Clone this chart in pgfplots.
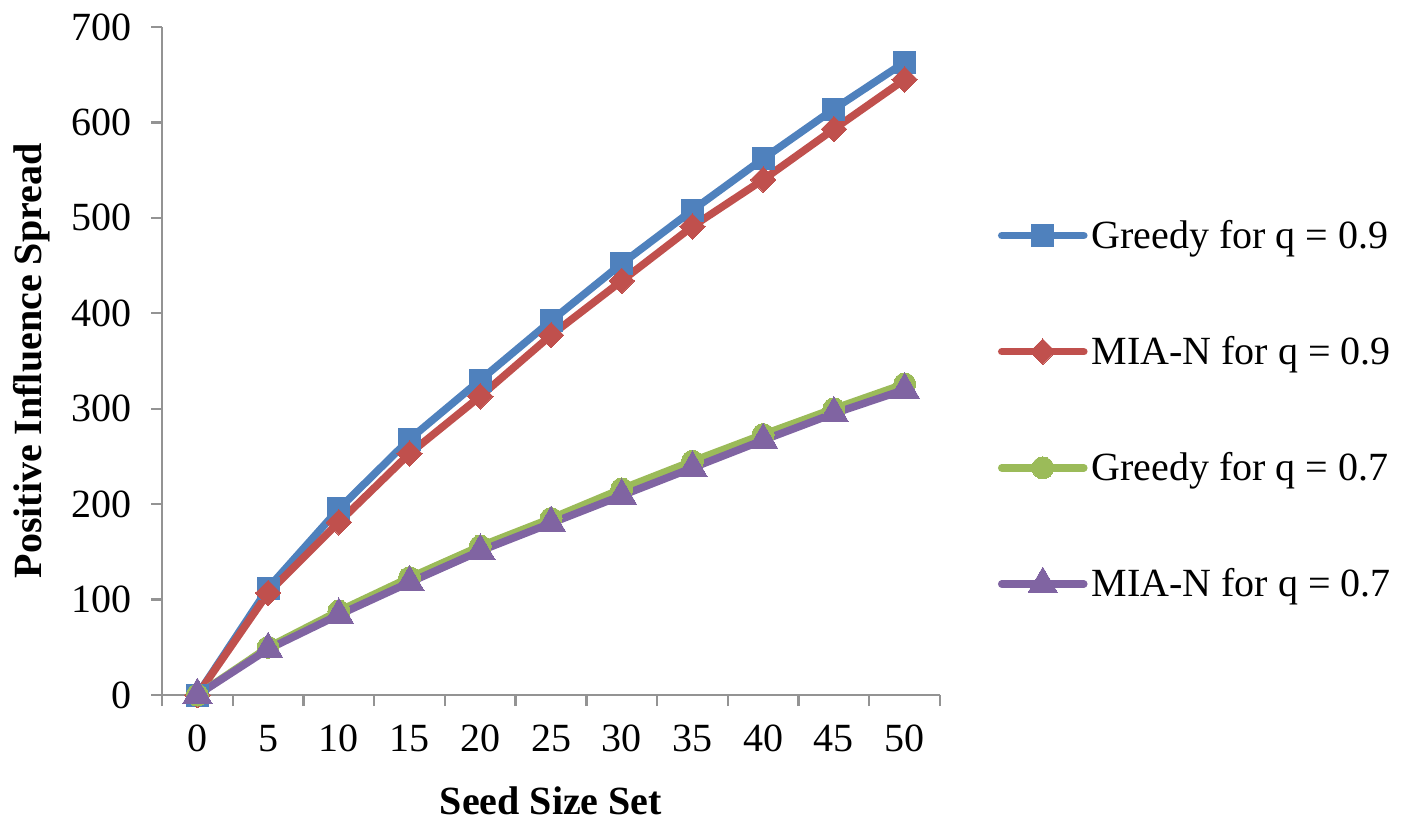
\documentclass[border=0pt]{standalone}
\usepackage{fontspec}
\setmainfont{Liberation Serif}
\usepackage{pgfplots}
\pgfplotsset{compat=1.18}
\definecolor{xblue}{HTML}{4F81BD}
\definecolor{xred}{HTML}{C0504D}
\definecolor{xgreen}{HTML}{9BBB59}
\definecolor{xpurple}{HTML}{8064A2}
\newcommand\ff{\fontsize{20}{24}\selectfont}
\begin{document}
\begin{tikzpicture}
\useasboundingbox (0,0) rectangle (703.5pt,410pt);
\begin{axis}[
  at={(81pt,62.5pt)}, anchor=south west,
  scale only axis, width=389pt, height=334pt,
  xmin=-0.5, xmax=10.5, ymin=0, ymax=700,
  axis x line=bottom, axis y line=left,
  axis line style={-, draw=gray!85, line width=1.2pt},
  xtick={-0.5,0.5,...,10.5},
  x tick label as interval,
  xticklabels={0,5,10,15,20,25,30,35,40,45,50},
  ytick={0,100,...,700},
  tick style={draw=gray!85, line width=1.2pt},
  tick align=outside, major tick length=5.5pt,
  /pgf/number format/assume math mode=true,
  tick label style={font=\ff},
  yticklabel style={xshift=-6pt},
  xticklabel style={yshift=-6pt},
  xlabel={\textbf{Seed Size Set}},
  ylabel={\textbf{Positive Influence Spread}},
  xlabel style={font=\ff, at={(axis description cs:0.5,0)}, anchor=north, inner sep=0pt, yshift=-45.5pt},
  ylabel style={font=\ff, at={(axis description cs:-0.167,0.5)}, anchor=center, inner sep=0pt},
  legend style={draw=none, at={(1.074,0.427)}, anchor=west, font=\ff, row sep=38.5pt, inner sep=0pt},
  legend cell align=left,
  legend image code/.code={\draw[mark repeat=2,mark phase=2,#1] plot coordinates {(0pt,0pt) (20.5pt,0pt) (41pt,0pt)};},
  every axis plot/.append style={line width=3.8pt, line join=round, line cap=round},
  clip=false,
]
\addplot[color=xblue, mark=square*, mark size=5.5pt, mark options={line width=0pt}] coordinates {
(0,0) (1,112) (2,195) (3,268) (4,330) (5,392) (6,452) (7,508) (8,562) (9,614) (10,663)};
\addlegendentry{Greedy for q = 0.9}
\addplot[color=xred, mark=square*, mark size=4.5pt, mark options={line width=0pt, rotate=45}] coordinates {
(0,0) (1,107) (2,181) (3,253) (4,313) (5,377) (6,434) (7,491) (8,540) (9,593) (10,645)};
\addlegendentry{MIA-N for q = 0.9}
\addplot[color=xgreen, mark=*, mark size=5.5pt, mark options={line width=0pt}] coordinates {
(0,0) (1,50) (2,88) (3,123) (4,156) (5,185) (6,216) (7,245) (8,273) (9,300) (10,326)};
\addlegendentry{Greedy for q = 0.7}
\addplot[color=xpurple, mark=triangle*, mark size=8.5pt, mark options={line width=0pt}] coordinates {
(0,0) (1,48) (2,84) (3,118) (4,151) (5,180) (6,209) (7,238) (8,267) (9,295) (10,320)};
\addlegendentry{MIA-N for q = 0.7}
\end{axis}
\end{tikzpicture}
\end{document}
